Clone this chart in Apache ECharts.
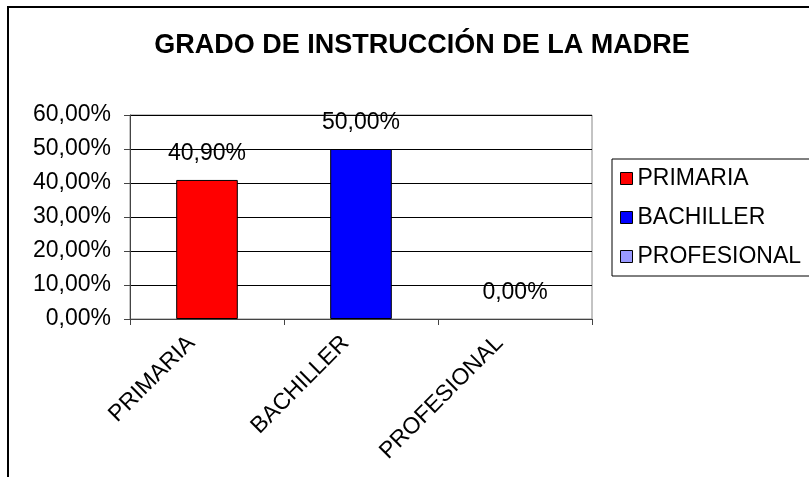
<!DOCTYPE html>
<html>
<head>
<meta charset="utf-8">
<script src="https://cdn.jsdelivr.net/npm/echarts@6/dist/echarts.min.js"></script>
<style>
html, body { margin: 0; padding: 0; background: #fff; }
#main { width: 809px; height: 477px; }
</style>
</head>
<body>
<div id="main"></div>
<script>
// data
var categories = ['PRIMARIA', 'BACHILLER', 'PROFESIONAL'];
var values = [0.409, 0.50, 0.0];
var colors = ['#ff0000', '#0000ff', '#9999ff'];
var yTicks = [0, 0.1, 0.2, 0.3, 0.4, 0.5, 0.6];

var font = 'Arial, "Liberation Sans", sans-serif';

function pct(v) {
    return (v * 100).toFixed(2).replace('.', ',') + '%';
}

var myChart = echarts.init(document.getElementById('main'));

// one series per category so the legend lists each one
var series = categories.map(function (name, i) {
    var d = categories.map(function (c, j) {
        if (j !== i) return '-';
        // a zero bar shows no outline in the original
        return {value: values[i], itemStyle: {borderWidth: values[i] === 0 ? 0 : 1}};
    });
    return {
        name: name,
        type: 'bar',
        stack: 'all',
        barWidth: '40%',
        data: d,
        itemStyle: {color: colors[i], borderColor: '#000', borderWidth: 1},
        label: {
            show: true,
            position: 'top',
            distance: 15,
            color: '#000',
            fontFamily: font,
            fontSize: 23,
            formatter: function (p) { return pct(p.value); }
        }
    };
});

var option = {
    animation: false,
    backgroundColor: '#fff',
    textStyle: {fontFamily: font},
    graphic: [{
        type: 'rect',
        shape: {x: 8, y: 7, width: 900, height: 600},
        style: {fill: 'none', stroke: '#000', lineWidth: 2},
        silent: true
    }],
    title: {
        text: 'GRADO DE INSTRUCCIÓN DE LA MADRE',
        left: 417,
        textAlign: 'center',
        top: 27,
        textStyle: {fontFamily: font, fontSize: 27, fontWeight: 'bold', color: '#000'}
    },
    legend: {
        orient: 'vertical',
        left: 612,
        top: 159,
        padding: [8, 30, 8, 8],
        itemGap: 16,
        itemWidth: 12,
        itemHeight: 12,
        itemTextGap: 10,
        icon: 'rect',
        borderColor: '#000',
        borderWidth: 1,
        data: categories,
        itemStyle: {borderColor: '#000', borderWidth: 1},
        textStyle: {fontFamily: font, fontSize: 23, color: '#000'}
    },
    grid: {
        left: 130,
        top: 115,
        right: 217,
        bottom: 158,
        show: true,
        borderColor: '#888',
        borderWidth: 1
    },
    xAxis: {
        type: 'category',
        data: categories,
        axisLine: {lineStyle: {color: '#444', width: 1}},
        axisTick: {show: true, length: 6, lineStyle: {color: '#444'}},
        axisLabel: {
            rotate: 45,
            margin: 5,
            padding: [0, 22, 0, 0],
            color: '#000',
            fontFamily: font,
            fontSize: 23
        }
    },
    yAxis: {
        type: 'value',
        min: yTicks[0],
        max: yTicks[yTicks.length - 1],
        interval: 0.1,
        axisLine: {show: true, lineStyle: {color: '#444', width: 1}},
        axisTick: {show: true, length: 6, lineStyle: {color: '#444'}},
        splitLine: {lineStyle: {color: '#000', width: 1}},
        axisLabel: {
            margin: 19,
            color: '#000',
            fontFamily: font,
            fontSize: 23,
            formatter: function (v) { return pct(v); }
        }
    },
    series: series
};

myChart.setOption(option);
</script>
</body>
</html>
